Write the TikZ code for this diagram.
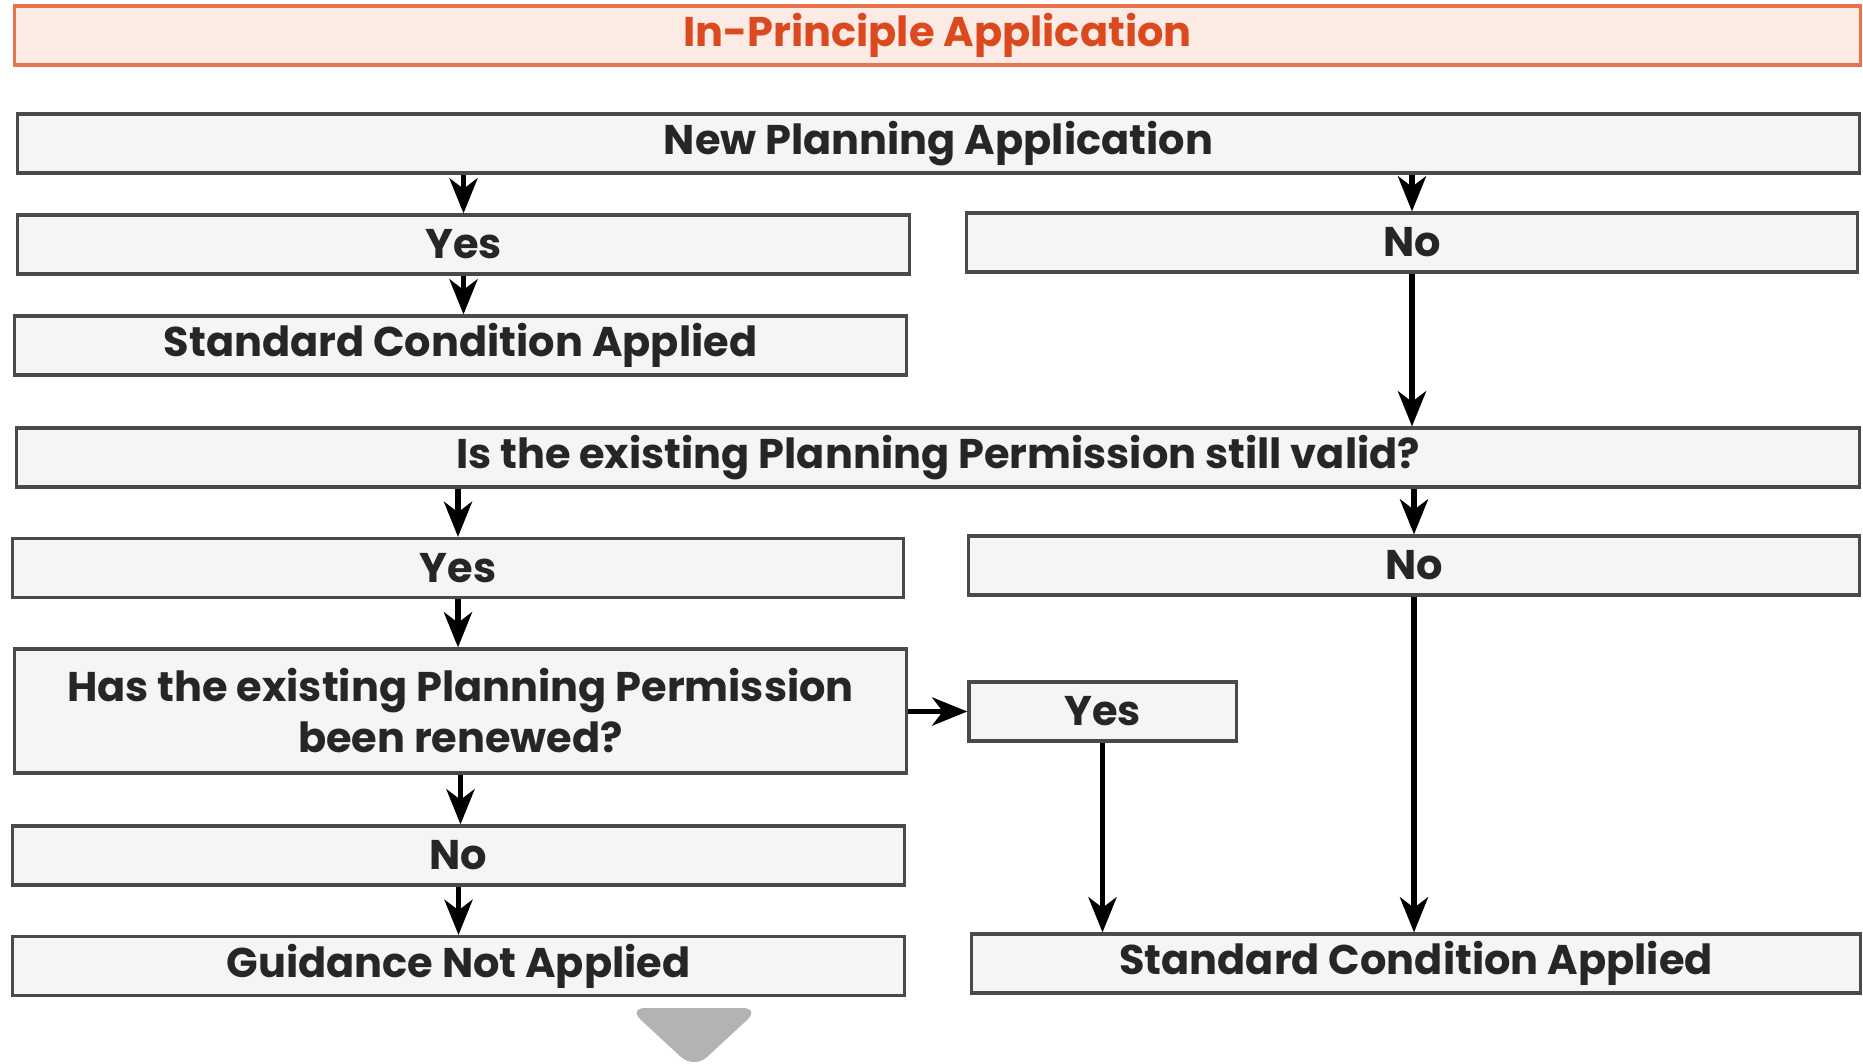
\documentclass[tikz,border=0pt]{standalone}
\usepackage{fontspec}
\setmainfont{Poppins}
\usetikzlibrary{positioning}
\usetikzlibrary{arrows.meta}

\definecolor{boxfill}{HTML}{F5F5F5}
\definecolor{boxline}{HTML}{4A4A4A}
\definecolor{headfill}{HTML}{FCEBE5}
\definecolor{headline}{HTML}{E9724F}
\definecolor{headtext}{HTML}{DB4A1F}
\definecolor{tipgrey}{HTML}{B3B3B3}

\begin{document}
\begin{tikzpicture}[x=0.01cm,y=-0.01cm]
\useasboundingbox (0,0) rectangle (1863,1063);
\begin{scope}[every node/.style={rectangle,draw=boxline,line width=0.9pt,fill=boxfill,
              minimum height=0.59cm,inner sep=0pt,align=center,
              font=\fontsize{11.8}{14.5}\selectfont\bfseries\color{black!85}}]
    \node [fill=headfill,draw=headline,minimum width=18.45cm,
           font=\fontsize{11.8}{14.5}\selectfont\bfseries\color{headtext}] (Head) at (937.5,35.5) {In-Principle Application};

    \node [minimum width=18.41cm] (NewApp) at (938.5,143.5) {New Planning Application};
    \node [minimum width=8.91cm] (Yes1) at (463.5,244.5) {Yes};
    \node [minimum width=8.90cm] (No1) at (1412,242.5) {No};
    \node [minimum width=8.91cm] (Std1) at (460.5,345.5) {Standard Condition Applied};

    \node [minimum width=18.42cm] (Valid) at (938,457.5) {Is the existing Planning Permission still valid?};
    \node [minimum width=8.90cm] (Yes2) at (458,568) {Yes};
    \node [minimum width=8.90cm] (No2) at (1414,565.5) {No};

    \node [minimum width=8.91cm,minimum height=1.24cm] (Renew) at (460.5,711) {Has the existing Planning Permission\\been renewed?};
    \node [minimum width=2.67cm] (Yes3) at (1102.5,711.5) {Yes};
    \node [minimum width=8.91cm] (No3) at (458.5,855.5) {No};
    \node [minimum width=8.91cm] (Guide) at (458.5,966) {Guidance Not Applied};
    \node [minimum width=8.88cm] (Std2) at (1416,963.5) {Standard Condition Applied};
\end{scope}

\begin{scope}[>={Stealth[length=10pt,width=8pt,inset=3pt]},line width=1.5pt]
     \draw [->] (Yes1.north |- NewApp.south) -- (Yes1.north);
     \draw [->] (No1.north |- NewApp.south) -- (No1.north);
     \draw [->] (Yes1.south) -- (Yes1.south |- Std1.north);

     \draw [->] (No1.south) -- (No1.south |- Valid.north);
     \draw [->] (Yes2.north |- Valid.south) -- (Yes2.north);
     \draw [->] (No2.north |- Valid.south) -- (No2.north);

     \draw [->] (Yes2.south) -- (Yes2.south |- Renew.north);
     \draw [->] (Renew.east |- Yes3.west) -- (Yes3.west);
     \draw [->] (Renew.south) -- (Renew.south |- No3.north);
     \draw [->] (No3.south) -- (No3.south |- Guide.north);

     \draw [->] (Yes3.south) -- (Yes3.south |- Std2.north);
     \draw [->] (No2.south) -- (No2.south |- Std2.north);
\end{scope}

\fill [tipgrey,rounded corners=5pt] (628,1008) -- (760,1008) -- (694,1069) -- cycle;
\end{tikzpicture}
\end{document}
